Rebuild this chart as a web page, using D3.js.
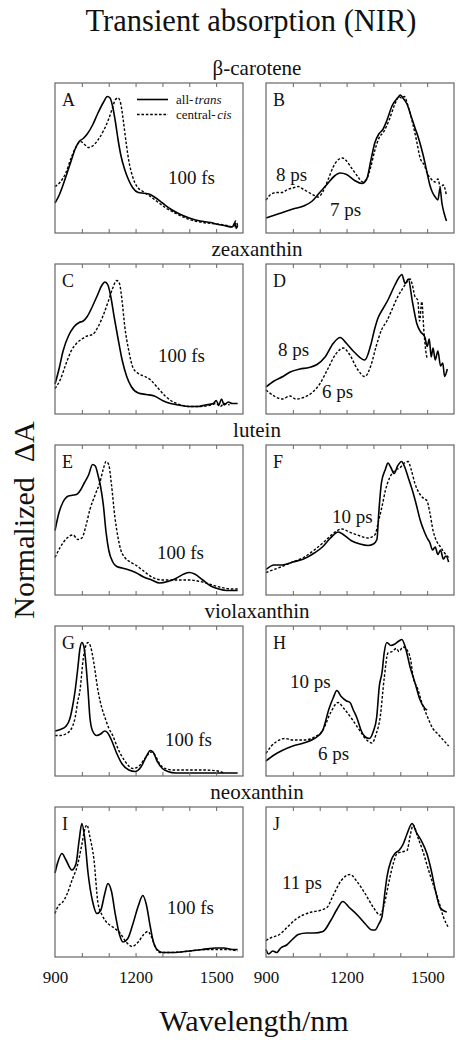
<!DOCTYPE html>
<html><head><meta charset="utf-8">
<script src="https://cdn.jsdelivr.net/npm/d3@7"></script>
<style>
html,body{margin:0;padding:0;background:#fff;}
svg text{fill:#111;}
</style></head>
<body><svg id="c" width="467" height="1050"></svg>
<script>
// ---------------- DATA ----------------
const groups = ["β-carotene","zeaxanthin","lutein","violaxanthin","neoxanthin"];
const panelLetters = ["A","B","C","D","E","F","G","H","I","J"];
const tickValues = [900,1200,1500];
const minorTicks = [1000,1100,1200,1300,1400,1500];
const legendLabels = [["all-","trans"],["central-","cis"]];
const timeLabels = {A:["100 fs"],B:["8 ps","7 ps"],C:["100 fs"],D:["8 ps","6 ps"],E:["100 fs"],F:["10 ps"],G:["100 fs"],H:["10 ps","6 ps"],I:["100 fs"],J:["11 ps"]};

const aSolid=[[900,0.2],[915,0.25],[930,0.32],[945,0.4],[960,0.48],[975,0.56],[990,0.61],[1005,0.63],[1020,0.66],[1040,0.72],[1060,0.8],[1080,0.87],[1095,0.91],[1105,0.9],[1115,0.84],[1125,0.74],[1135,0.62],[1145,0.52],[1160,0.42],[1175,0.35],[1190,0.3],[1210,0.27],[1230,0.265],[1250,0.26],[1270,0.24],[1300,0.2],[1330,0.16],[1360,0.13],[1400,0.1],[1440,0.08],[1480,0.07],[1500,0.06],[1530,0.05],[1560,0.04],[1570,0.07],[1575,0.03],[1580,0.05]];
const aDashed=[[900,0.31],[920,0.34],[940,0.4],[960,0.5],[980,0.58],[995,0.61],[1010,0.59],[1025,0.57],[1040,0.58],[1060,0.62],[1080,0.68],[1100,0.76],[1115,0.84],[1125,0.89],[1135,0.9],[1145,0.86],[1155,0.74],[1165,0.6],[1175,0.48],[1190,0.37],[1205,0.31],[1225,0.28],[1250,0.25],[1280,0.21],[1310,0.17],[1350,0.13],[1400,0.09],[1450,0.07],[1500,0.06],[1540,0.05],[1565,0.04],[1572,0.08],[1580,0.05]];
const bSolid=[[900,0.1],[950,0.13],[1000,0.16],[1040,0.18],[1070,0.21],[1100,0.27],[1130,0.33],[1155,0.38],[1176,0.4],[1200,0.39],[1230,0.35],[1257,0.33],[1275,0.36],[1290,0.48],[1305,0.6],[1320,0.66],[1335,0.69],[1350,0.75],[1370,0.85],[1390,0.9],[1400,0.92],[1410,0.9],[1425,0.86],[1440,0.78],[1455,0.7],[1470,0.62],[1485,0.52],[1500,0.4],[1510,0.32],[1520,0.27],[1530,0.24],[1540,0.22],[1548,0.3],[1555,0.2],[1562,0.14],[1572,0.08]];
const bDashed=[[900,0.22],[920,0.26],[940,0.27],[960,0.27],[980,0.29],[1000,0.3],[1020,0.31],[1040,0.29],[1060,0.27],[1080,0.25],[1095,0.24],[1110,0.27],[1130,0.35],[1150,0.44],[1170,0.49],[1185,0.5],[1200,0.48],[1220,0.43],[1240,0.38],[1260,0.34],[1275,0.36],[1290,0.44],[1305,0.55],[1320,0.63],[1340,0.68],[1360,0.76],[1380,0.86],[1395,0.91],[1405,0.9],[1415,0.91],[1430,0.84],[1445,0.74],[1460,0.62],[1474,0.5],[1490,0.45],[1500,0.4],[1515,0.36],[1530,0.34],[1540,0.36],[1550,0.3],[1560,0.32],[1572,0.25]];
const cSolid=[[900,0.2],[915,0.3],[930,0.42],[950,0.52],[970,0.58],[990,0.61],[1005,0.62],[1020,0.65],[1040,0.72],[1060,0.8],[1075,0.86],[1086,0.88],[1097,0.86],[1108,0.78],[1120,0.65],[1134,0.51],[1150,0.36],[1167,0.25],[1185,0.18],[1210,0.14],[1240,0.13],[1270,0.12],[1300,0.09],[1330,0.07],[1360,0.06],[1400,0.05],[1430,0.05],[1460,0.06],[1490,0.07],[1500,0.09],[1510,0.06],[1520,0.1],[1530,0.06],[1545,0.08],[1560,0.07],[1580,0.07]];
const cDashed=[[900,0.17],[920,0.23],[940,0.33],[960,0.42],[980,0.47],[1000,0.5],[1020,0.52],[1040,0.53],[1060,0.58],[1080,0.66],[1100,0.76],[1115,0.84],[1130,0.89],[1140,0.87],[1150,0.75],[1160,0.58],[1175,0.42],[1190,0.31],[1210,0.27],[1235,0.25],[1254,0.23],[1280,0.18],[1310,0.12],[1340,0.08],[1370,0.06],[1400,0.05],[1440,0.05],[1480,0.06],[1500,0.07],[1515,0.05],[1530,0.07],[1550,0.06]];
const dSolid=[[900,0.18],[930,0.22],[963,0.25],[990,0.28],[1026,0.3],[1060,0.31],[1090,0.33],[1120,0.38],[1150,0.47],[1176,0.51],[1200,0.47],[1230,0.41],[1268,0.36],[1290,0.46],[1305,0.57],[1317,0.64],[1335,0.7],[1354,0.76],[1380,0.86],[1395,0.91],[1406,0.93],[1418,0.87],[1430,0.9],[1445,0.75],[1462,0.6],[1475,0.55],[1492,0.51],[1500,0.45],[1508,0.5],[1515,0.38],[1522,0.44],[1530,0.36],[1540,0.42],[1550,0.32],[1558,0.34],[1565,0.25],[1575,0.3]];
const dDashed=[[900,0.16],[930,0.12],[960,0.1],[990,0.12],[1010,0.1],[1040,0.11],[1070,0.14],[1100,0.2],[1130,0.3],[1160,0.4],[1188,0.44],[1210,0.4],[1240,0.3],[1268,0.25],[1290,0.32],[1310,0.45],[1330,0.56],[1350,0.62],[1370,0.7],[1390,0.78],[1410,0.84],[1425,0.88],[1436,0.9],[1445,0.86],[1455,0.78],[1465,0.76],[1472,0.62],[1480,0.75],[1488,0.55],[1495,0.42],[1500,0.37]];
const eSolid=[[900,0.43],[915,0.55],[930,0.62],[950,0.66],[965,0.665],[980,0.67],[995,0.7],[1010,0.75],[1025,0.8],[1040,0.87],[1050,0.86],[1060,0.8],[1070,0.72],[1080,0.6],[1090,0.42],[1100,0.3],[1115,0.22],[1130,0.19],[1150,0.18],[1170,0.17],[1200,0.15],[1230,0.12],[1260,0.1],[1290,0.08],[1320,0.09],[1350,0.11],[1380,0.14],[1400,0.15],[1420,0.14],[1450,0.1],[1480,0.06],[1510,0.04],[1540,0.03],[1580,0.03]];
const eDashed=[[900,0.25],[920,0.32],[945,0.38],[967,0.4],[985,0.37],[1000,0.38],[1015,0.46],[1030,0.57],[1050,0.67],[1067,0.75],[1080,0.84],[1090,0.89],[1100,0.87],[1110,0.74],[1123,0.52],[1135,0.38],[1145,0.3],[1160,0.25],[1180,0.22],[1200,0.2],[1230,0.16],[1260,0.12],[1300,0.1],[1350,0.1],[1400,0.1],[1440,0.09],[1480,0.07],[1520,0.05],[1560,0.04],[1580,0.04]];
const fSolid=[[900,0.17],[930,0.2],[960,0.2],[1000,0.22],[1040,0.24],[1080,0.28],[1110,0.32],[1140,0.38],[1169,0.42],[1190,0.4],[1220,0.36],[1250,0.34],[1280,0.33],[1300,0.34],[1313,0.37],[1320,0.55],[1330,0.75],[1345,0.84],[1354,0.88],[1365,0.85],[1377,0.81],[1390,0.86],[1405,0.89],[1415,0.86],[1430,0.78],[1448,0.68],[1460,0.6],[1474,0.5],[1490,0.42],[1500,0.38],[1510,0.35],[1520,0.3],[1530,0.32],[1540,0.27],[1550,0.3],[1560,0.24],[1570,0.26],[1580,0.22]];
const fDashed=[[900,0.15],[930,0.17],[960,0.19],[1000,0.22],[1040,0.25],[1080,0.3],[1120,0.36],[1150,0.41],[1183,0.44],[1210,0.42],[1240,0.4],[1280,0.38],[1305,0.4],[1320,0.5],[1332,0.59],[1345,0.7],[1360,0.78],[1380,0.83],[1400,0.85],[1415,0.88],[1429,0.89],[1440,0.84],[1455,0.74],[1474,0.67],[1490,0.64],[1499,0.63],[1510,0.55],[1522,0.43],[1535,0.36],[1550,0.32],[1565,0.28],[1580,0.25]];
const gSolid=[[900,0.3],[920,0.31],[940,0.33],[955,0.38],[965,0.46],[975,0.57],[985,0.72],[993,0.85],[1000,0.89],[1008,0.86],[1015,0.75],[1023,0.57],[1030,0.39],[1040,0.3],[1055,0.27],[1070,0.28],[1085,0.3],[1095,0.29],[1110,0.24],[1130,0.15],[1150,0.08],[1175,0.04],[1198,0.03],[1220,0.06],[1240,0.13],[1255,0.17],[1265,0.16],[1280,0.1],[1300,0.05],[1320,0.03],[1350,0.02],[1400,0.02],[1500,0.02],[1580,0.02]];
const gDashed=[[900,0.27],[920,0.27],[940,0.28],[955,0.3],[965,0.33],[975,0.39],[985,0.5],[993,0.57],[1005,0.78],[1015,0.87],[1023,0.89],[1033,0.86],[1045,0.75],[1060,0.57],[1075,0.45],[1086,0.39],[1100,0.32],[1115,0.27],[1135,0.18],[1160,0.1],[1190,0.05],[1215,0.07],[1240,0.13],[1258,0.16],[1272,0.14],[1290,0.08],[1310,0.05],[1340,0.04],[1400,0.04],[1450,0.04],[1500,0.035],[1530,0.02]];
const hSolid=[[900,0.1],[930,0.14],[960,0.17],[1000,0.2],[1040,0.22],[1080,0.25],[1110,0.3],[1135,0.45],[1150,0.52],[1164,0.57],[1180,0.53],[1200,0.5],[1213,0.49],[1225,0.44],[1238,0.39],[1255,0.3],[1270,0.26],[1285,0.25],[1300,0.3],[1312,0.39],[1322,0.6],[1332,0.69],[1340,0.82],[1350,0.89],[1365,0.87],[1380,0.88],[1395,0.9],[1406,0.91],[1420,0.85],[1436,0.73],[1455,0.62],[1473,0.51],[1492,0.45],[1500,0.44]];
const hDashed=[[900,0.15],[920,0.2],[940,0.23],[970,0.25],[1000,0.24],[1040,0.24],[1080,0.26],[1110,0.3],[1140,0.42],[1168,0.49],[1190,0.45],[1220,0.38],[1250,0.3],[1275,0.24],[1295,0.22],[1310,0.28],[1325,0.39],[1340,0.65],[1354,0.82],[1370,0.83],[1385,0.85],[1395,0.83],[1410,0.86],[1425,0.84],[1438,0.78],[1448,0.66],[1465,0.58],[1480,0.49],[1500,0.4],[1520,0.32],[1540,0.28],[1560,0.24],[1580,0.2]];
const iSolid=[[900,0.56],[910,0.63],[926,0.69],[940,0.65],[963,0.58],[978,0.62],[990,0.78],[1000,0.89],[1010,0.8],[1023,0.56],[1040,0.37],[1056,0.29],[1070,0.31],[1085,0.42],[1097,0.49],[1110,0.44],[1125,0.28],[1140,0.15],[1153,0.1],[1170,0.12],[1190,0.22],[1210,0.34],[1227,0.41],[1240,0.35],[1255,0.2],[1265,0.11],[1280,0.05],[1300,0.03],[1340,0.03],[1400,0.04],[1450,0.05],[1500,0.06],[1530,0.06],[1560,0.05],[1580,0.05]];
const iDashed=[[900,0.29],[912,0.34],[926,0.36],[945,0.42],[965,0.52],[982,0.6],[1000,0.75],[1012,0.86],[1019,0.88],[1030,0.8],[1045,0.65],[1060,0.36],[1075,0.28],[1093,0.23],[1115,0.2],[1142,0.16],[1165,0.1],[1187,0.07],[1210,0.1],[1230,0.15],[1246,0.17],[1260,0.13],[1275,0.06],[1290,0.03],[1330,0.03],[1400,0.04],[1450,0.05],[1500,0.05],[1540,0.05],[1580,0.04]];
const jSolid=[[900,0.05],[910,0.02],[925,0.04],[940,0.03],[955,0.06],[977,0.08],[1000,0.12],[1020,0.15],[1052,0.16],[1080,0.16],[1112,0.17],[1140,0.24],[1165,0.32],[1186,0.37],[1210,0.33],[1240,0.28],[1270,0.22],[1295,0.18],[1306,0.18],[1320,0.22],[1332,0.27],[1342,0.42],[1350,0.53],[1365,0.64],[1380,0.69],[1395,0.71],[1410,0.75],[1425,0.82],[1444,0.89],[1460,0.83],[1480,0.77],[1499,0.69],[1515,0.58],[1530,0.45],[1548,0.33],[1560,0.31],[1573,0.3]];
const jDashed=[[900,0.11],[920,0.13],[950,0.15],[980,0.2],[1010,0.25],[1038,0.28],[1070,0.3],[1100,0.31],[1127,0.33],[1150,0.41],[1180,0.51],[1213,0.55],[1240,0.5],[1270,0.42],[1300,0.33],[1325,0.28],[1340,0.35],[1360,0.52],[1375,0.63],[1388,0.69],[1405,0.7],[1425,0.71],[1438,0.82],[1448,0.88],[1465,0.8],[1485,0.7],[1505,0.58],[1525,0.47],[1545,0.36],[1560,0.27],[1578,0.2]];

const seriesSolid=[aSolid,bSolid,cSolid,dSolid,eSolid,fSolid,gSolid,hSolid,iSolid,jSolid];
const seriesDashed=[aDashed,bDashed,cDashed,dDashed,eDashed,fDashed,gDashed,hDashed,iDashed,jDashed];

// ---------------- LAYOUT ----------------
const FONT="'Liberation Serif','Times New Roman',Times,serif";
const colX=[55,266], pw=188, ph=150, rowTop=[83,264,445,626,807];
const labelPos={A:[[113,101]],B:[[10,98],[64,133]],C:[[103,98]],D:[[12,92],[56,134]],E:[[102,114]],F:[[66,78]],G:[[110,120]],H:[[24,62],[52,134]],I:[[112,107]],J:[[16,82]]};

const svg=d3.select("#c");
const T=(sel)=>sel.append("text").style("font-family",FONT);
T(svg).attr("x",251).attr("y",31).attr("text-anchor","middle").attr("font-size",30.5).text("Transient absorption (NIR)");
T(svg).attr("x",254).attr("y",1031).attr("text-anchor","middle").attr("font-size",30).text("Wavelength/nm");
T(svg).attr("transform","translate(34,520) rotate(-90)").attr("text-anchor","middle").attr("font-size",30).style("white-space","pre").text("Normalized  ΔA");

groups.forEach((g,r)=>{
  T(svg).attr("x",257).attr("y",rowTop[r]-8).attr("text-anchor","middle").attr("font-size",21).text(g);
});

const x=d3.scaleLinear().domain([900,1600]).range([0,pw]);
const y=d3.scaleLinear().domain([0,1]).range([ph,0]);
const line=d3.line().x(d=>x(d[0])).y(d=>y(d[1])).curve(d3.curveMonotoneX);

panelLetters.forEach((L,i)=>{
  const r=Math.floor(i/2), c=i%2;
  const gp=svg.append("g").attr("transform",`translate(${colX[c]},${rowTop[r]})`);
  gp.append("path").attr("d",line(seriesSolid[i])).attr("fill","none").attr("stroke","#000").attr("stroke-width",1.6);
  gp.append("path").attr("d",line(seriesDashed[i])).attr("fill","none").attr("stroke","#000").attr("stroke-width",1.4).attr("stroke-dasharray","2.6,1.8");
  gp.append("rect").attr("width",pw).attr("height",ph).attr("fill","none").attr("stroke","#666").attr("stroke-width",1.2);
  const bottom=d3.axisBottom(x).tickValues(minorTicks).tickSize(-4).tickFormat("");
  const top=d3.axisTop(x).tickValues(minorTicks).tickSize(-4).tickFormat("");
  const gb=gp.append("g").attr("transform",`translate(0,${ph})`).call(bottom);
  const gt=gp.append("g").call(top);
  [gb,gt].forEach(a=>{a.select(".domain").remove();a.selectAll("line").attr("stroke","#666");});
  if(r===4){
    const lab=gp.append("g").attr("transform",`translate(0,${ph})`).call(d3.axisBottom(x).tickValues(tickValues).tickSize(0).tickPadding(14).tickFormat(d3.format("d")));
    lab.select(".domain").remove();
    lab.attr("font-family",null);
    lab.selectAll("text").attr("font-size",17).style("font-family",FONT).attr("fill","#111");
  }
  T(gp).attr("x",7).attr("y",23).attr("font-size",18).text(L);
  timeLabels[L].forEach((t,k)=>{
    const p=labelPos[L][k];
    T(gp).attr("x",p[0]).attr("y",p[1]).attr("font-size",19).text(t);
  });
  if(L==="A"){
    [0,1].forEach(k=>{
      const yy=16.5+k*15;
      gp.append("line").attr("x1",82).attr("x2",113).attr("y1",yy).attr("y2",yy).attr("stroke","#000").attr("stroke-width",k?1.4:1.6).attr("stroke-dasharray",k?"2.6,1.8":null);
      const t1=T(gp).attr("x",121).attr("y",yy+4.3).attr("font-size",13).text(legendLabels[k][0]);
      const w=t1.node().getComputedTextLength();
      T(gp).attr("x",121+w+1.5).attr("y",yy+4.3).attr("font-size",13).attr("font-style","italic").text(legendLabels[k][1]);
    });
  }
});
</script></body></html>
